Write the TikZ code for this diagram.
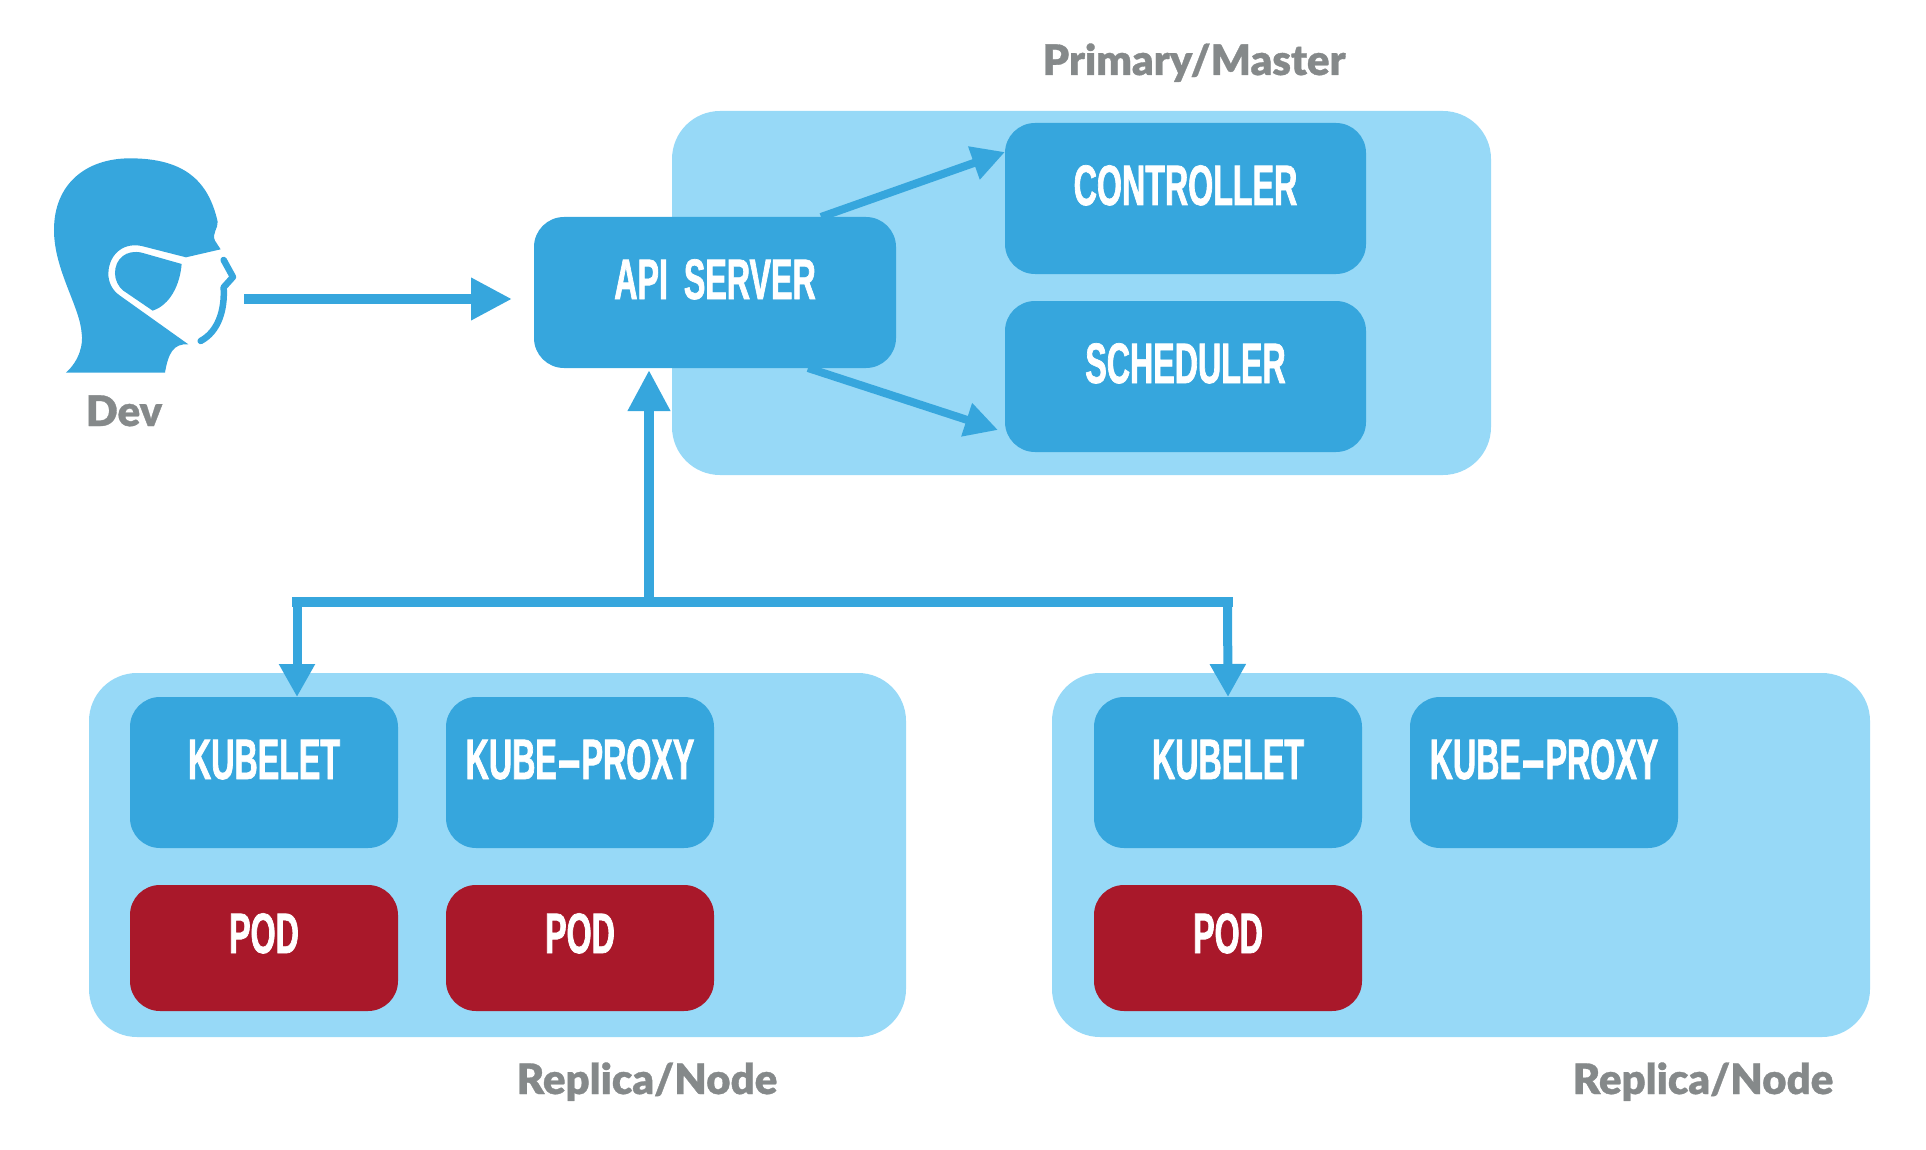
\documentclass[tikz,border=0pt]{standalone}
\usepackage{xcolor}
\usepackage{graphicx}
\usepackage{fontspec}
\usepackage{tikz}
\usetikzlibrary{arrows.meta, positioning}
\newfontfamily\boxfont[UprightFont=* Bold, FakeStretch=0.565, FakeBold=1.2]{Liberation Sans}
\newfontfamily\labelfont[UprightFont=* Black, FakeBold=0.8]{Lato}
\definecolor{paleblue}{HTML}{97D9F7}
\definecolor{midblue}{HTML}{36A6DD}
\definecolor{podred}{HTML}{A9182A}
\definecolor{labelgray}{HTML}{85898A}
\tikzset{
    groupbox/.style={rectangle, fill=paleblue, rounded corners=48pt, inner sep=0pt, outer sep=0pt, anchor=north west, minimum width=#1, minimum height=364pt},
    bluebox/.style={rectangle, fill=midblue, rounded corners=30pt, inner sep=0pt, outer sep=0pt, text=white, font=\boxfont\fontsize{57}{57}\selectfont, text height=41pt, text depth=28pt, minimum height=151pt, minimum width=#1},
    podbox/.style={bluebox=268pt, fill=podred, text depth=31pt, minimum height=126pt},
    greylabel/.style={text=labelgray, font=\labelfont\fontsize{42}{42}\selectfont, inner sep=0pt, anchor=base},
    flowline/.style={draw=midblue, line width=#1, -{Triangle[width=40pt, length=41pt]}},
    slimline/.style={draw=midblue, line width=8pt, -{Triangle[width=33pt, length=33pt]}},
    dropline/.style={draw=midblue, line width=9pt, -{Triangle[width=34pt, length=33pt]}}
}

\begin{document}
\begin{tikzpicture}[x=1pt, y=-1pt]
    \useasboundingbox (0,0) rectangle (1926,1150);

    % group panels
    \node[groupbox=819pt] (mastergroup) at (672,111) {};
    \node[groupbox=817pt] (nodegroupa) at (89,673) {};
    \node[groupbox=818pt] (nodegroupb) at (1052,673) {};

    % primary
    \node[bluebox=361pt, anchor=north west] (controller) at (1005,123) {CONTROLLER};
    \node[bluebox=361pt, below=27pt of controller] (scheduler) {SCHEDULER};
    \node[bluebox=362pt, anchor=north west] (apiserver) at (534,217) {API\hspace{7pt} SERVER};

    % replicas
    \node[bluebox=268pt, anchor=north west] (kubeleta) at (130,697) {KUBELET};
    \node[bluebox=268pt, right=48pt of kubeleta] (proxya) {KUBE\scalebox{2.3}[1]{-}PROXY};
    \node[podbox, below=37pt of kubeleta] (poda) {POD};
    \node[podbox, below=37pt of proxya] (podb) {POD};
    \node[bluebox=268pt, anchor=north west] (kubeletb) at (1094,697) {KUBELET};
    \node[bluebox=268pt, right=48pt of kubeletb] (proxyb) {KUBE\scalebox{2.3}[1]{-}PROXY};
    \node[podbox, below=37pt of kubeletb] (podc) {POD};

    % labels
    \node[greylabel] (devlabel) at (124,426) {Dev};
    \node[greylabel] (masterlabel) at (1194,75) {Primary/Master};
    \node[greylabel] (replicalabela) at (647,1094) {Replica/Node};
    \node[greylabel] (replicalabelb) at (1703,1094) {Replica/Node};

    % dev head
    \begin{scope}[shift={(30,130)}, scale=0.3333]
        \fill[midblue] (108,728) .. controls (150,690) and (160,640) .. (155,610)
            .. controls (150,530) and (72,420) .. (72,300)
            .. controls (72,160) and (170,85) .. (300,85)
            .. controls (460,85) and (535,150) .. (563,275)
            .. controls (565,295) and (545,310) .. (555,332)
            -- (572,358) -- (468,382) -- (335,348)
            .. controls (270,335) and (235,385) .. (235,430)
            .. controls (235,455) and (245,480) .. (270,497)
            -- (475,643) .. controls (430,640) and (415,670) .. (405,728) -- cycle;
        \fill[midblue] (455,402) -- (335,368)
            .. controls (290,358) and (255,385) .. (255,430)
            .. controls (255,450) and (265,470) .. (280,482)
            -- (368,542) .. controls (420,525) and (450,465) .. (455,402) -- cycle;
        \draw[midblue, line width=6.5pt, line cap=round, line join=round] (581,390) -- (609,441) -- (581,472)
            .. controls (585,540) and (565,605) .. (512,633);
    \end{scope}

    % connectors
    \coordinate (devstart) at (244,299);
    \coordinate (busleft) at (292,602);
    \coordinate (busright) at (1233,602);
    \coordinate (busup) at (649,602);
    \coordinate (dropa) at (297,602);
    \coordinate (dropb) at (1227.5,602);
    \draw[flowline=10pt] (devstart) -- ([xshift=-22pt, yshift=-6.5pt]apiserver.west);
    \draw[slimline] ([xshift=106pt]apiserver.north) -- ([yshift=46.5pt]controller.west);
    \draw[slimline] ([xshift=93pt]apiserver.south) -- ([xshift=-7pt, yshift=-53.5pt]scheduler.west);
    \draw[flowline=10pt] (busup) -- ([xshift=-66pt, yshift=-2pt]apiserver.south);
    \draw[draw=midblue, line width=10pt] (busleft) -- (busright);
    \draw[dropline] (dropa) -- ([xshift=33pt]kubeleta.north);
    \draw[dropline] (dropb) -- (kubeletb.north);
\end{tikzpicture}
\end{document}
